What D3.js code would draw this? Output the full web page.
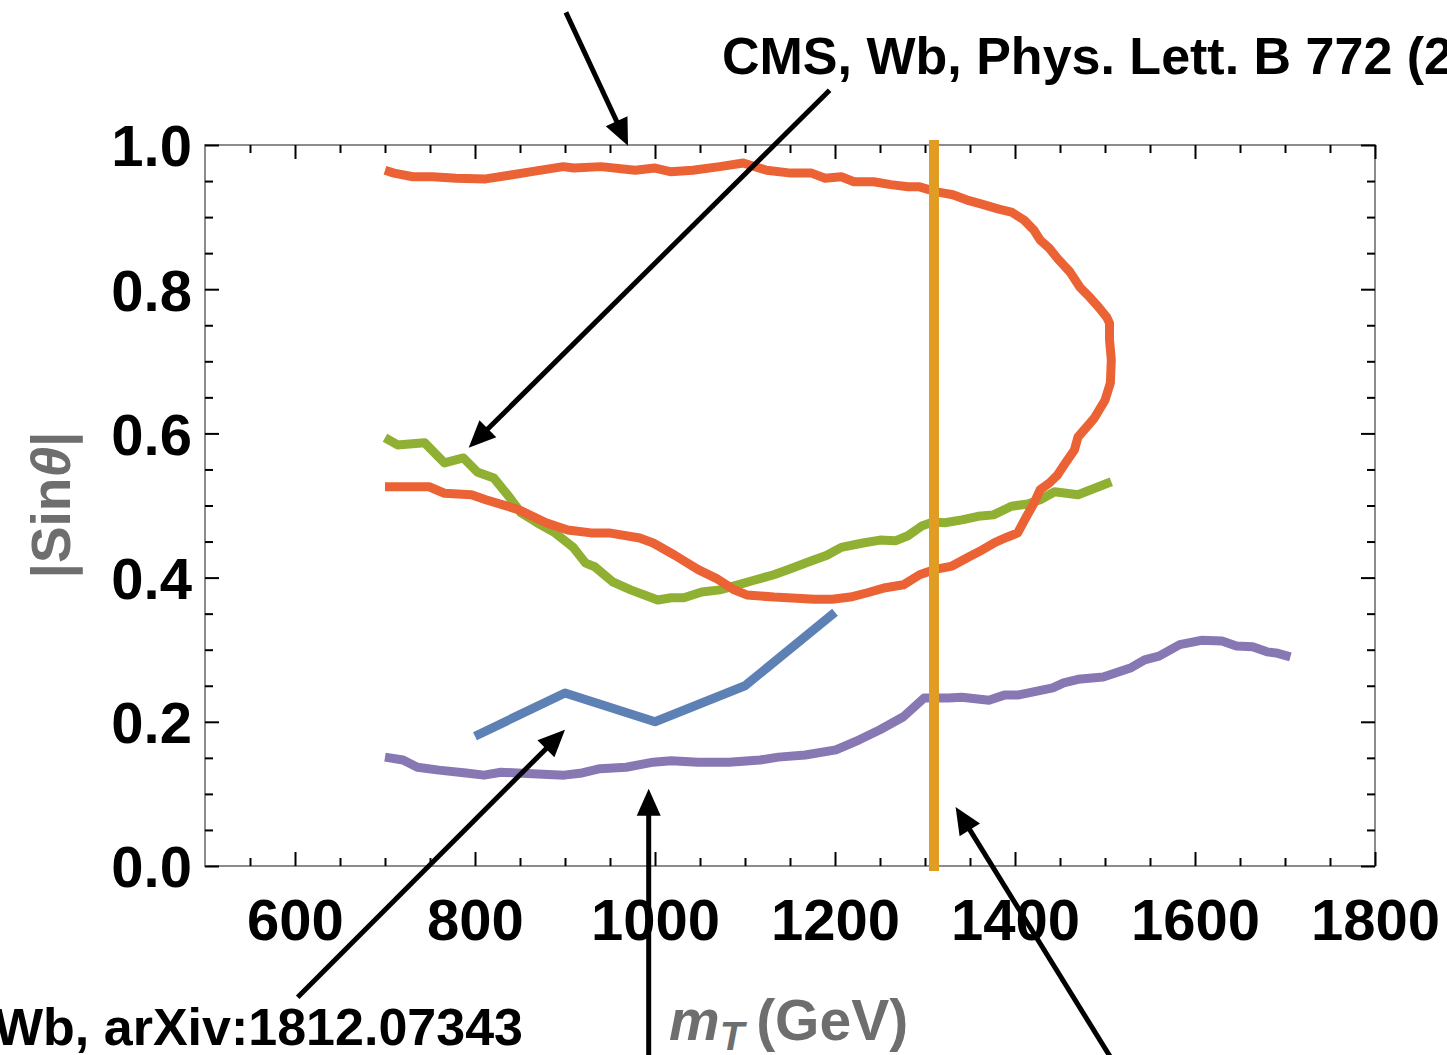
<!DOCTYPE html>
<html><head><meta charset="utf-8">
<script src="https://cdn.jsdelivr.net/npm/d3@7"></script>
<style>html,body{margin:0;padding:0;background:#fff;overflow:hidden}</style>
</head><body><svg id="chart" width="1447" height="1055"></svg>
<script>
// ---- data ----
const xMajorTicks = [600, 800, 1000, 1200, 1400, 1600, 1800];
const yMajorTicks = [0, 0.2, 0.4, 0.6, 0.8, 1.0];
const xMinorTicks = [550,650,700,750,850,900,950,1050,1100,1150,1250,1300,1350,1450,1500,1550,1650,1700,1750];
const yMinorTicks = [0.05,0.1,0.15,0.25,0.3,0.35,0.45,0.5,0.55,0.65,0.7,0.75,0.85,0.9,0.95];

const redContour = [[700,0.965],[710,0.961],[731,0.956],[753,0.956],[779,0.954],[812,0.953],[838,0.958],[863,0.963],[898,0.970],[910,0.968],[940,0.970],[978,0.965],[1000,0.968],[1017,0.963],[1042,0.965],[1072,0.970],[1098,0.975],[1124,0.965],[1151,0.961],[1174,0.961],[1189,0.954],[1207,0.956],[1221,0.949],[1243,0.949],[1262,0.945],[1281,0.942],[1294,0.942],[1313,0.935],[1331,0.931],[1346,0.924],[1363,0.918],[1382,0.911],[1396,0.907],[1410,0.896],[1421,0.882],[1428,0.868],[1438,0.857],[1447,0.843],[1461,0.824],[1472,0.803],[1483,0.789],[1493,0.775],[1502,0.761],[1505,0.753],[1505,0.730],[1507,0.702],[1506,0.670],[1500,0.646],[1488,0.621],[1477,0.605],[1470,0.595],[1466,0.577],[1456,0.559],[1447,0.542],[1438,0.531],[1428,0.522],[1421,0.503],[1412,0.483],[1403,0.462],[1391,0.456],[1378,0.449],[1363,0.438],[1349,0.429],[1330,0.416],[1310,0.411],[1294,0.404],[1276,0.390],[1256,0.386],[1236,0.379],[1217,0.373],[1197,0.370],[1177,0.370],[1132,0.373],[1102,0.376],[1088,0.383],[1068,0.399],[1048,0.411],[1022,0.431],[998,0.448],[983,0.455],[949,0.462],[929,0.462],[903,0.466],[879,0.476],[849,0.494],[812,0.508],[796,0.515],[766,0.517],[749,0.526],[700,0.526]];
const greenCurve = [[700,0.594],[714,0.584],[744,0.587],[766,0.559],[787,0.566],[803,0.546],[821,0.538],[838,0.512],[851,0.490],[869,0.476],[889,0.462],[909,0.442],[923,0.420],[933,0.415],[953,0.394],[973,0.383],[1003,0.369],[1018,0.372],[1032,0.372],[1052,0.380],[1072,0.383],[1092,0.390],[1112,0.397],[1132,0.404],[1152,0.413],[1171,0.422],[1191,0.431],[1207,0.442],[1231,0.448],[1250,0.452],[1267,0.451],[1281,0.458],[1297,0.472],[1309,0.477],[1322,0.476],[1341,0.480],[1359,0.485],[1376,0.487],[1396,0.499],[1414,0.502],[1428,0.508],[1444,0.519],[1470,0.515],[1507,0.533]];
const purpleCurve = [[700,0.151],[720,0.147],[736,0.137],[760,0.133],[790,0.129],[810,0.126],[829,0.130],[864,0.128],[899,0.126],[919,0.129],[939,0.135],[968,0.137],[998,0.144],[1018,0.146],[1048,0.144],[1082,0.144],[1117,0.147],[1137,0.151],[1167,0.154],[1201,0.161],[1227,0.175],[1250,0.189],[1276,0.207],[1299,0.233],[1326,0.233],[1341,0.234],[1371,0.230],[1388,0.237],[1403,0.237],[1442,0.247],[1454,0.254],[1470,0.259],[1498,0.262],[1529,0.275],[1544,0.286],[1560,0.291],[1583,0.307],[1607,0.313],[1630,0.312],[1646,0.305],[1664,0.304],[1680,0.297],[1692,0.295],[1706,0.290]];
const blueCurve = [[800,0.18],[900,0.24],[1000,0.20],[1100,0.25],[1200,0.352]];
const orangeLine = [[1310,0],[1310,1]];

// arrows: [startX, startY, tipX, tipY] in data units
const arrows = [
  [901, 1.184, 970, 0.999],
  [1194, 1.076, 793, 0.580],
  [603, -0.182, 900, 0.189],
  [993, -0.269, 993, 0.107],
  [1508, -0.269, 1334, 0.082]
];

// ---- layout ----
const svg = d3.select("#chart");
const L = 205, R = 1375, T = 145, B = 866;
const x = d3.scaleLinear().domain([500, 1800]).range([L, R]);
const y = d3.scaleLinear().domain([0, 1]).range([B, T]);
const FONT = "'Liberation Sans', Arial, Helvetica, sans-serif";

// frame
svg.append("rect").attr("x", L).attr("y", T).attr("width", R - L).attr("height", B - T)
  .attr("fill", "none").attr("stroke", "#8c8c8c").attr("stroke-width", 2);

function styleAxis(g) {
  g.select(".domain").remove();
  g.selectAll(".tick line").attr("stroke", "#000").attr("stroke-width", 2);
}
// bottom
svg.append("g").attr("transform", `translate(0,${B})`)
  .call(d3.axisBottom(x).tickValues(xMinorTicks).tickSize(-8).tickFormat(""))
  .call(styleAxis);
const xb = svg.append("g").attr("transform", `translate(0,${B})`)
  .call(d3.axisBottom(x).tickValues(xMajorTicks).tickSize(-14).tickFormat(d3.format("d")))
  .call(styleAxis);
xb.selectAll("text").attr("y", 74).attr("dy", 0).attr("fill", "#000")
  .style("font-family", FONT).style("font-size", "58px").style("font-weight", "bold");
// top
svg.append("g").attr("transform", `translate(0,${T})`)
  .call(d3.axisTop(x).tickValues(xMinorTicks).tickSize(-8).tickFormat(""))
  .call(styleAxis);
svg.append("g").attr("transform", `translate(0,${T})`)
  .call(d3.axisTop(x).tickValues(xMajorTicks).tickSize(-14).tickFormat(""))
  .call(styleAxis);
// left
svg.append("g").attr("transform", `translate(${L},0)`)
  .call(d3.axisLeft(y).tickValues(yMinorTicks).tickSize(-8).tickFormat(""))
  .call(styleAxis);
const yl = svg.append("g").attr("transform", `translate(${L},0)`)
  .call(d3.axisLeft(y).tickValues(yMajorTicks).tickSize(-14).tickFormat(d3.format(".1f")))
  .call(styleAxis);
yl.selectAll("text").attr("x", -13).attr("dy", "0.36em").attr("fill", "#000")
  .style("font-family", FONT).style("font-size", "58px").style("font-weight", "bold");
// right
svg.append("g").attr("transform", `translate(${R},0)`)
  .call(d3.axisRight(y).tickValues(yMinorTicks).tickSize(-8).tickFormat(""))
  .call(styleAxis);
svg.append("g").attr("transform", `translate(${R},0)`)
  .call(d3.axisRight(y).tickValues(yMajorTicks).tickSize(-14).tickFormat(""))
  .call(styleAxis);

// curves
const line = d3.line().x(d => x(d[0])).y(d => y(d[1]));
function drawCurve(data, color, width, cap) {
  svg.append("path").datum(data).attr("d", line)
    .attr("fill", "none").attr("stroke", color).attr("stroke-width", width)
    .attr("stroke-linejoin", "round").attr("stroke-linecap", cap || "butt");
}
drawCurve(blueCurve, "#5E81B5", 9);
drawCurve(purpleCurve, "#8778B3", 9);
drawCurve(greenCurve, "#8FB032", 9);
drawCurve(redContour, "#EB6235", 9);
drawCurve(orangeLine, "#E19C24", 10, "square");

// arrows
const HEAD = 27, HALF = 12;
arrows.forEach(a => {
  const x0 = x(a[0]), y0 = y(a[1]), x1 = x(a[2]), y1 = y(a[3]);
  const dx = x1 - x0, dy = y1 - y0, len = Math.hypot(dx, dy);
  const ux = dx / len, uy = dy / len;
  const bx = x1 - ux * HEAD, by = y1 - uy * HEAD;
  svg.append("line").attr("x1", x0).attr("y1", y0).attr("x2", bx + ux * 2).attr("y2", by + uy * 2)
    .attr("stroke", "#000").attr("stroke-width", 5);
  svg.append("path")
    .attr("d", `M${x1},${y1}L${bx - uy * HALF},${by + ux * HALF}L${bx + uy * HALF},${by - ux * HALF}Z`)
    .attr("fill", "#000");
});

// axis titles
const ylab = svg.append("text").attr("transform", "translate(70,505) rotate(-90)")
  .attr("text-anchor", "middle").attr("fill", "#6e6e6e")
  .style("font-family", FONT).style("font-size", "55px").style("font-weight", "bold");
ylab.append("tspan").text("|Sin");
ylab.append("tspan").style("font-style", "italic").text("θ");
ylab.append("tspan").text("|");

const xlab = svg.append("text").attr("x", 669).attr("y", 1040).attr("fill", "#6e6e6e")
  .style("font-family", FONT).style("font-size", "57px").style("font-weight", "bold");
xlab.append("tspan").style("font-style", "italic").text("m");
xlab.append("tspan").style("font-style", "italic").style("font-size", "40px").attr("dy", 10).text("T");
xlab.append("tspan").attr("dy", -10).attr("dx", 12).text("(GeV)");

// annotations
svg.append("text").attr("x", 722).attr("y", 74).attr("fill", "#000")
  .style("font-family", FONT).style("font-size", "52px").style("font-weight", "bold")
  .text("CMS, Wb, Phys. Lett. B 772 (2017)");
svg.append("text").attr("x", 523).attr("y", 1045).attr("text-anchor", "end").attr("fill", "#000")
  .style("font-family", FONT).style("font-size", "52px").style("font-weight", "bold")
  .text("Wb, arXiv:1812.07343");
</script></body></html>
